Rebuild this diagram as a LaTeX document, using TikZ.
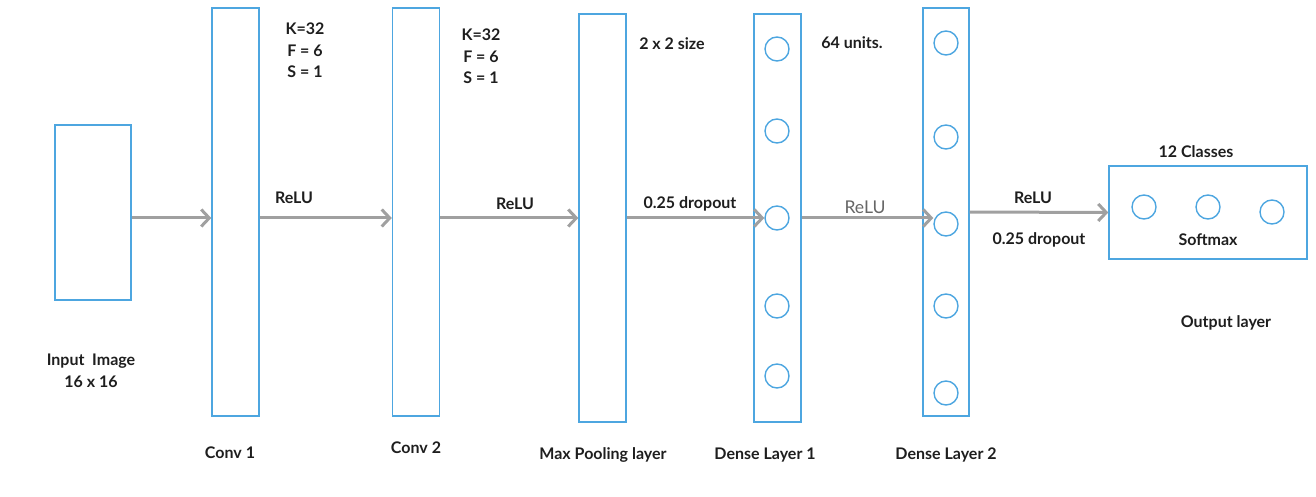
\documentclass[tikz,border=0pt]{standalone}
\usepackage{fontspec}
\setmainfont{Lato}
\usetikzlibrary{arrows.meta}
\definecolor{layerblue}{HTML}{4DA6E0}
\definecolor{arrgray}{HTML}{A0A0A0}
\definecolor{txt}{HTML}{1E1E1E}
\definecolor{softtxt}{HTML}{666666}

\begin{document}
\begin{tikzpicture}[
			x=0.5pt, y=-0.5pt,
			font=\fontsize{8}{11}\selectfont\bfseries,
			layer/.style={draw=layerblue, line width=0.7pt, minimum width=23.5pt, minimum height=204pt, inner sep=0pt},
			unit/.style={circle, draw=layerblue, line width=0.7pt, minimum size=12pt, inner sep=0pt},
			lbl/.style={text=txt, align=center, inner sep=0pt},
			arr/.style={-{Straight Barb[length=4pt,width=8.5pt]}, draw=arrgray, line width=1.5pt}
			]
			\useasboundingbox (0,0) rectangle (1316,497);
			
			% layers
			\node[layer, minimum width=38pt, minimum height=87.5pt] (inp) at (93,212.5) {};
			\node[layer] (conv1) at (235.5,212) {};
			\node[layer] (conv2) at (416,212) {};
			\node[layer] (pool) at (602.5,218) {};
			\node[layer] (dense1) at (777.5,218) {};
			\node[layer, minimum width=23pt] (dense2) at (946,212) {};
			\node[layer, minimum width=99pt, minimum height=46.5pt] (out) at (1208,212.5) {};
			
			% units
			\node[unit] (d1a) at (777,49) {};
			\node[unit] (d1b) at (777,131) {};
			\node[unit] (d1c) at (777,218) {};
			\node[unit] (d1d) at (777,306) {};
			\node[unit] (d1e) at (777,376) {};
			\node[unit] (d2a) at (946,43) {};
			\node[unit] (d2b) at (946,137) {};
			\node[unit] (d2c) at (946,224) {};
			\node[unit] (d2d) at (946,306) {};
			\node[unit] (d2e) at (946,393) {};
			\node[unit] (o1) at (1144,207) {};
			\node[unit] (o2) at (1208,207) {};
			\node[unit] (o3) at (1272,212) {};
			
			% arrows
			\draw[arr] (inp.east |- pool) -- (conv1.west |- pool);
			\draw[arr] (conv1.east |- pool) -- (conv2.west |- pool);
			\draw[arr] (conv2.east |- pool) -- (pool.west);
			\draw[arr] (pool.east) -- (d1c.west);
			\draw[arr] (dense1.east |- d1c) -- (d2c.west |- d1c);
			\draw[arr] (dense2.east) -- (out.west);
			
			% labels
			\node[lbl, font=\fontsize{8}{10.75}\selectfont\bfseries] (hyp1) at (305,50.5) {K=32\\F = 6\\S = 1};
			\node[lbl, font=\fontsize{8}{10.75}\selectfont\bfseries] (hyp2) at (481,56.5) {K=32\\F = 6\\S = 1};
			\node[lbl] (poolsize) at (672,44) {2 x 2 size};
			\node[lbl] (units) at (852,43) {64 units.};
			\node[lbl] (relu1) at (294,198) {ReLU};
			\node[lbl] (relu2) at (515,204) {ReLU};
			\node[lbl] (drop1) at (690,204) {0.25 dropout};
			\node[lbl, text=softtxt, font=\fontsize{8.8}{11}\selectfont] (relu3) at (865,207) {ReLU};
			\node[lbl] (relu4) at (1033,198) {ReLU};
			\node[lbl] (drop2) at (1039,240) {0.25 dropout};
			\node[lbl] (classes) at (1196,152) {12 Classes};
			\node[lbl] (softmax) at (1208,240) {Softmax};
			\node[lbl] (outname) at (1226,323) {Output layer};
			\node[lbl] (inpname) at (91,371) {Input\ \ Image\\16 x 16};
			\node[lbl] (c1name) at (230,453) {Conv 1};
			\node[lbl] (c2name) at (416,448) {Conv 2};
			\node[lbl] (poolname) at (603,455) {Max Pooling layer};
			\node[lbl] (d1name) at (765,455) {Dense Layer 1};
			\node[lbl] (d2name) at (946,455) {Dense Layer 2};
			
		\end{tikzpicture}
\end{document}
